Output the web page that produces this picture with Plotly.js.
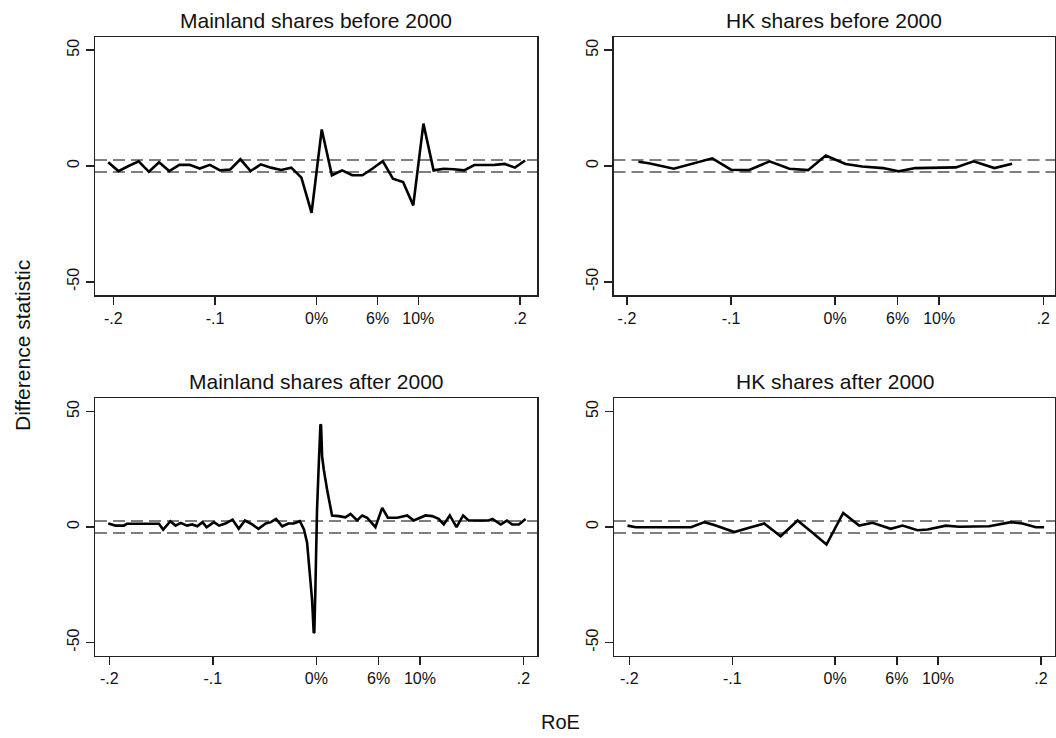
<!DOCTYPE html>
<html>
<head>
<meta charset="utf-8">
<script src="https://cdn.plot.ly/plotly-3.0.1.min.js"></script>
<style>html,body{margin:0;padding:0;background:#fff;}#chart{width:1056px;height:738px;}</style>
</head>
<body>
<div id="chart"></div>
<script>
// ---- Data ----
const panelTitles = ["Mainland shares before 2000", "HK shares before 2000", "Mainland shares after 2000", "HK shares after 2000"];
const xTickVals = [-0.2, -0.1, 0, 0.06, 0.1, 0.2];
const xTickText = ["-.2", "-.1", "0%", "6%", "10%", ".2"];
const yTickVals = [-50, 0, 50];
const yTickText = ["-50", "0", "50"];
const critValue = 2.58;

const mainBeforeX = [-0.205,-0.195,-0.185,-0.175,-0.165,-0.155,-0.145,-0.135,-0.125,-0.115,-0.105,-0.095,-0.085,-0.075,-0.065,-0.055,-0.045,-0.035,-0.025,-0.015,-0.005,0.005,0.015,0.025,0.035,0.045,0.055,0.065,0.075,0.085,0.095,0.105,0.115,0.125,0.135,0.145,0.155,0.165,0.175,0.185,0.195,0.205];
const mainBeforeY = [1.6,-2.2,0.0,2.0,-2.5,1.6,-2.2,0.5,0.5,-1.1,0.5,-1.9,-1.5,2.9,-2.2,0.7,-0.7,-1.7,-0.7,-5.0,-20.2,15.8,-4.0,-1.9,-4.0,-4.0,-1.1,2.1,-5.5,-6.9,-17.0,18.3,-1.9,-1.2,-1.4,-1.9,0.4,0.4,0.5,0.9,-0.7,2.4];

const hkBeforeX = [-0.189,-0.179,-0.155,-0.135,-0.118,-0.100,-0.083,-0.063,-0.044,-0.026,-0.009,0.010,0.026,0.046,0.061,0.077,0.097,0.116,0.133,0.153,0.170];
const hkBeforeY = [1.8,1.2,-1.2,1.3,3.3,-1.6,-1.8,2.0,-1.2,-1.8,4.5,0.9,-0.2,-0.9,-2.3,-0.9,-0.8,-0.6,2.0,-0.9,1.0];

const mainAfterX = [-0.201,-0.194,-0.186,-0.183,-0.152,-0.148,-0.141,-0.136,-0.131,-0.125,-0.120,-0.115,-0.110,-0.106,-0.099,-0.094,-0.088,-0.081,-0.075,-0.069,-0.062,-0.056,-0.049,-0.044,-0.039,-0.033,-0.027,-0.022,-0.016,-0.012,-0.009,-0.0058,-0.0042,-0.0026,-0.0020,-0.0010,0.0006,0.0022,0.0039,0.0045,0.0055,0.0071,0.0103,0.0151,0.0216,0.028,0.0329,0.0393,0.0442,0.049,0.057,0.0635,0.069,0.078,0.0876,0.094,0.1053,0.1118,0.118,0.123,0.1288,0.1353,0.1417,0.147,0.1665,0.170,0.178,0.184,0.189,0.1955,0.202];
const mainAfterY = [1.5,0.6,0.6,1.4,1.4,-1.1,2.5,0.6,1.8,0.6,1.1,0.3,2.1,-0.1,2.1,0.6,1.5,3.2,-0.8,2.8,1.1,-0.8,1.5,2.1,3.5,0.3,1.5,1.5,2.5,-1.1,-6.8,-21.3,-31.4,-45.8,-45.5,-27.0,7.6,26.3,44.4,44.0,30.6,24.9,16.2,5.0,4.7,4.2,5.7,2.8,5.0,4.0,-0.1,8.3,4.0,4.0,5.0,2.8,5.0,4.7,3.5,1.1,5.0,-0.1,5.0,2.8,2.8,3.5,1.1,2.8,1.1,1.1,3.5];

const hkAfterX = [-0.2018,-0.1937,-0.140,-0.127,-0.116,-0.098,-0.0836,-0.069,-0.053,-0.0365,-0.022,-0.0084,0.0078,0.0233,0.0363,0.054,0.0655,0.080,0.0898,0.1076,0.1205,0.1497,0.1707,0.182,0.195,0.203];
const hkAfterY = [0.6,-0.1,-0.1,2.1,0.6,-2.2,-0.3,1.5,-4.0,2.8,-2.5,-7.6,6.1,0.6,1.8,-0.8,0.6,-1.4,-1.1,0.6,0.1,0.3,2.1,1.5,-0.1,-0.1];

const seriesX = [mainBeforeX, hkBeforeX, mainAfterX, hkAfterX];
const seriesY = [mainBeforeY, hkBeforeY, mainAfterY, hkAfterY];

// ---- Layout geometry (pixels) ----
const W = 1056, H = 738;
const frames = [
  {l: 95,  r: 537,  t: 37,    b: 295,   xr: [-0.218, 0.2167]},
  {l: 613.5, r: 1055, t: 37,  b: 295,   xr: [-0.2129, 0.2112]},
  {l: 95,  r: 537,  t: 398.3, b: 655.7, xr: [-0.2138, 0.2130]},
  {l: 614, r: 1055, t: 398.3, b: 655.7, xr: [-0.2149, 0.2136]}
];
const yRange = [-55.7, 55.7];
const fontFam = "Liberation Sans, Arial, sans-serif";
const ink = "#111";

const traces = [];
const layout = {
  width: W, height: H,
  margin: {l: 0, r: 0, t: 0, b: 0},
  paper_bgcolor: "#fff", plot_bgcolor: "#fff",
  showlegend: false,
  font: {family: fontFam, color: ink},
  shapes: [], annotations: []
};

frames.forEach((f, i) => {
  const n = i === 0 ? "" : String(i + 1);
  traces.push({
    x: seriesX[i], y: seriesY[i], type: "scatter", mode: "lines",
    xaxis: "x" + n, yaxis: "y" + n,
    line: {color: "#000", width: 2.6},
    hoverinfo: "skip"
  });
  layout["xaxis" + n] = {
    domain: [f.l / W, f.r / W], range: f.xr, anchor: "y" + n,
    tickmode: "array", tickvals: xTickVals, ticktext: xTickText,
    ticks: "outside", ticklen: 8, tickwidth: 1.5, tickcolor: "#222",
    showline: true, mirror: true, linecolor: "#222", linewidth: 1.5,
    showgrid: false, zeroline: false,
    tickfont: {size: 16, color: ink, family: fontFam}, fixedrange: true
  };
  layout["yaxis" + n] = {
    domain: [1 - f.b / H, 1 - f.t / H], range: yRange, anchor: "x" + n,
    tickmode: "array", tickvals: yTickVals, ticktext: yTickText, tickangle: -90,
    ticks: "outside", ticklen: 8, tickwidth: 1.5, tickcolor: "#222",
    showline: true, mirror: true, linecolor: "#222", linewidth: 1.5,
    showgrid: false, zeroline: false,
    tickfont: {size: 16, color: ink, family: fontFam}, fixedrange: true
  };
  [critValue, -critValue].forEach(v => {
    layout.shapes.push({
      type: "line", xref: "x" + n + " domain", yref: "y" + n,
      x0: 0, x1: 1, y0: v, y1: v, layer: "below",
      line: {color: "#555", width: 1.4, dash: "12px,6px"}
    });
  });
  layout.annotations.push({
    text: panelTitles[i], xref: "paper", yref: "paper",
    x: (f.l + f.r) / 2 / W, y: 1 - (f.t - 17) / H,
    xanchor: "center", yanchor: "middle", showarrow: false,
    font: {size: 21, color: ink, family: fontFam}
  });
});

layout.annotations.push({
  text: "Difference statistic", xref: "paper", yref: "paper",
  x: 22 / W, y: 1 - 346 / H, xanchor: "center", yanchor: "middle",
  textangle: -90, showarrow: false, font: {size: 21, color: ink, family: fontFam}
});
layout.annotations.push({
  text: "RoE", xref: "paper", yref: "paper",
  x: 560 / W, y: 1 - 722 / H, xanchor: "center", yanchor: "middle",
  showarrow: false, font: {size: 20, color: ink, family: fontFam}
});

Plotly.newPlot("chart", traces, layout, {displayModeBar: false, staticPlot: true});
</script>
</body>
</html>
